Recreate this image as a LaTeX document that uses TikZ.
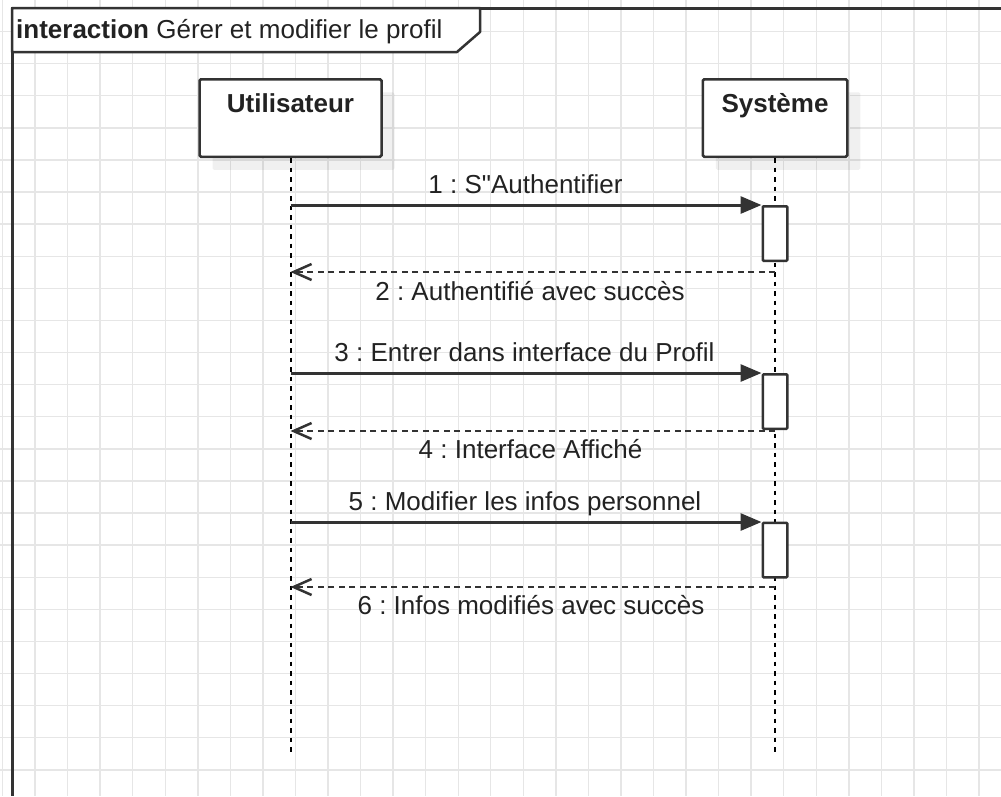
\documentclass[tikz,border=0pt]{standalone}
\usepackage{fontspec}
\setmainfont{Liberation Sans}
\usetikzlibrary{arrows.meta,shadows}

\definecolor{trait}{HTML}{333333}
\definecolor{grille}{HTML}{E6E6E6}
\definecolor{texte}{HTML}{222222}

\newcommand{\policediag}{\fontsize{26}{30}\selectfont}
\newcommand{\guillemetdroit}{\XeTeXglyph\XeTeXcharglyph"22\relax}
\frenchspacing

\begin{document}
\begin{tikzpicture}[x=1pt,y=-1pt,
  font=\policediag, text=texte,
  quadrillage/.style={draw=grille, line width=1.4pt},
  cadre/.style={draw=trait, line width=3pt},
  onglet/.style={draw=trait, line width=2.5pt, fill=white, line join=round},
  acteur/.style={draw=trait, line width=2.5pt, fill=white, rounded corners=1.5pt,
    minimum height=77.5pt, text height=19pt, text depth=29.6pt, inner sep=0pt,
    font=\policediag\bfseries,
    general shadow={fill=black, opacity=0.06, shadow xshift=13pt, shadow yshift=-13pt}},
  activation/.style={draw=trait, line width=2.5pt, fill=white, rounded corners=1pt,
    minimum width=24.5pt, minimum height=54.5pt, inner sep=0pt},
  lifeline/.style={draw=black, line width=2pt, dash pattern=on 4.5pt off 5pt},
  appel/.style={draw=trait, line width=3pt, -{Triangle[length=21pt,width=17pt]}},
  retour/.style={draw=trait, line width=2.5pt, dash pattern=on 6pt off 4.5pt,
    -{Straight Barb[length=18pt,width=16pt,line width=2.5pt]}},
  msg/.style={anchor=base, inner sep=0pt}]

\useasboundingbox (0,0) rectangle (1001,796);
\fill[white] (0,0) rectangle (1001,796);

% grid
\foreach \i in {0,...,30}
  \draw[quadrillage] (2.5+32.55*\i,0) -- (2.5+32.55*\i,796);
\foreach \j in {1,...,24}
  \draw[quadrillage] (0,-0.6+32.1*\j) -- (1001,-0.6+32.1*\j);

% frame and title tab
\draw[cadre] (1001,8) -| (12,796);
\draw[onglet] (12,8) -- (480,8) -- (480,32) -- (457,52) -- (12,52) -- cycle;
\node[anchor=base west, inner sep=0pt] (titre) at (16,38.3)
  {\textbf{interaction} Gérer et modifier le profil};

% lifelines
\node[acteur, minimum width=182pt] (utilisateur) at (290.5,118) {Utilisateur};
\node[acteur, minimum width=144.5pt] (systeme) at (775,118) {Système};

\coordinate (ufin) at (290.5,755);
\coordinate (sfin) at (775,755);
\draw[lifeline] (utilisateur.south) -- (ufin);
\draw[lifeline] (systeme.south) -- (sfin);

% activations
\node[activation] (act1) at (775,233.5) {};
\node[activation] (act2) at (775,401.5) {};
\node[activation] (act3) at (775,550) {};

% messages
\coordinate (u1) at (290.5,205);
\coordinate (u3) at (290.5,373);
\coordinate (u5) at (290.5,522);
\coordinate (s2) at (775,272);
\coordinate (u2) at (290.5,272);
\coordinate (s4) at (775,431);
\coordinate (u4) at (290.5,431);
\coordinate (s6) at (775,587);
\coordinate (u6) at (290.5,587);

\draw[appel] (u1) -- (u1 -| act1.west);
\draw[retour] (s2) -- (u2);
\draw[appel] (u3) -- (u3 -| act2.west);
\draw[retour] (s4) -- (u4);
\draw[appel] (u5) -- (u5 -| act3.west);
\draw[retour] (s6) -- (u6);

\node[msg] (m1) at (525.5,193.3) {1 : S\guillemetdroit Authentifier};
\node[msg] (m2) at (530,300) {2 : Authentifié avec succès};
\node[msg] (m3) at (524.5,361.7) {3 : Entrer dans interface du Profil};
\node[msg] (m4) at (530.5,458.3) {4 : Interface Affiché};
\node[msg] (m5) at (525,510) {5 : Modifier les infos personnel};
\node[msg] (m6) at (531,614) {6 : Infos modifiés avec succès};

\end{tikzpicture}
\end{document}
